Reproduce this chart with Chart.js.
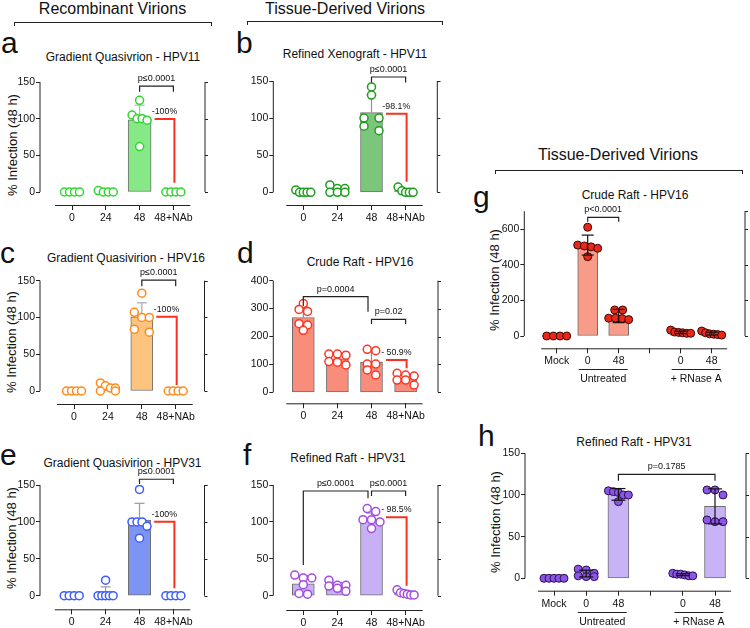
<!DOCTYPE html>
<html>
<head>
<meta charset="utf-8">
<title>Virion infection panels</title>
<script src="https://cdn.jsdelivr.net/npm/chart.js@4.4.1/dist/chart.umd.min.js"></script>
<style>
  body { margin: 0; background: #fff; }
  #figure { position: relative; width: 750px; height: 628px; overflow: hidden;
            font-family: "Liberation Sans", Arial, Helvetica, sans-serif; color: #111; }
  #figure canvas { position: absolute; left: 0; top: 0; }
  .txt { position: absolute; line-height: 1; white-space: nowrap; }
  .brace { position: absolute; border: 1.5px solid #222; border-bottom: none; height: 4px; box-sizing: border-box; }
</style>
</head>
<body>
<div id="figure"></div>
<script>
// ------------------- DATA -------------------
const timeLabels = ["0", "24", "48", "48+NAb"];
const raftLabels = ["Mock", "0", "48", "", "0", "48"];
const raftGroups = [[1, 2, "Untreated"], [4, 5, "+ RNase A"]];

const ticks150 = [0, 50, 100, 150];
const ticks400 = [0, 100, 200, 300, 400];
const ticks600 = [0, 200, 400, 600];

// sig rows: [from, to, bracket level, left leg end, right leg end, text]
// drop rows: [top value, bottom value, text]

// a - Gradient Quasivrion HPV11
const aMean = [0, 0.5, 98.4, 0];
const aSd = [0, 0, 20, 0];
const aPts = [[0, 0, 0, 0], [2, 0, 0, 0], [125, 105, 100, 100, 98, 62], [0, 0, 0, 0]];
const aSig = [[2, 3, 144.5, 136.8, 136.8, "p≤0.0001"]];
const aDrop = [99.6, 12.7, "-100%"];

// b - Refined Xenograft HPV11
const bMean = [0.6, 3.3, 107.5, 1.8];
const bSd = [0, 0, 24, 0];
const bPts = [[3, 0, 0, 0, 0], [10, 5, 5, 0, 0, 0], [142, 131, 100, 100, 89, 83], [7, 2, 0, 0, 0]];
const bSig = [[2, 3, 155.4, 148.1, 148.1, "p≤0.0001"]];
const bDrop = [105.8, 14.3, "-98.1%"];

// c - Gradient Quasivirion HPV16
const cMean = [0, 4.3, 100.7, 0];
const cSd = [0, 4.7, 19.2, 0];
const cPts = [[0, 0, 0, 0], [11, 7, 4, 4, 0, 0], [133, 107, 100, 100, 84, 80], [0, 0, 0, 0]];
const cSig = [[2, 3, 150.7, 142.5, 142.5, "p≤0.0001"]];
const cDrop = [100.9, 8.1, "-100%"];

// d - Crude Raft HPV16
const dMean = [268, 120, 108, 50];
const dSd = [41, 20, 41, 16];
const dPts = [[318, 297, 290, 246, 241, 222], [137, 137, 133, 110, 108, 98], [154, 149, 101, 101, 80, 62], [68, 62, 58, 44, 44, 26]];
const dSig = [[0, 2, 342.7, 309.3, 288.9, "p=0.0004"], [2, 3, 261.6, 244.8, 244.8, "p=0.02"]];
const dDrop = [115.8, 86, "- 50.9%"];

// e - Gradient Quasivirion HPV31
const eMean = [0, 3.5, 102.3, 0];
const eSd = [0, 8.5, 22.9, 0];
const ePts = [[0, 0, 0, 0], [21, 0, 0, 0, 0, 0], [144, 100, 100, 100, 94, 78], [0, 0, 0, 0]];
const eSig = [[2, 3, 157.8, 151.4, 151.4, "p≤0.0001"]];
const eDrop = [100.3, 10, "-100%"];

// f - Refined Raft HPV31
const fMean = [16, 13, 103, 3];
const fSd = [11, 5, 9, 3];
const fPts = [[28, 24, 24, 15, 3, 2], [21, 14, 14, 13, 10, 6], [118, 114, 103, 103, 100, 91], [8, 4, 3, 2, 1, 1]];
const fSig = [[0, 2, 141.9, 41.6, 132, "p≤0.0001"], [2, 3, 141.9, 135.1, 135.1, "p≤0.0001"]];
const fDrop = [106.3, 13.6, "- 98.5%"];

// g - Crude Raft HPV16 (RNase)
const gMean = [0, 510, 112, null, 20.5, 13.5];
const gSd = [0, 56, 37, null, 7, 8];
const gPts = [[0, 0, 0, 0], [610, 510, 505, 500, 492, 445], [146, 146, 100, 100, 98, 92], [], [33, 22, 20, 18, 15, 15], [28, 18, 12, 10, 8, 5]];
const gSig = [[1, 2, 665.7, 641, 641, "p<0.0001"]];

// h - Refined Raft HPV31 (RNase)
const hMean = [0, 5.7, 100.7, null, 4.3, 86.3];
const hSd = [0, 4, 7, null, 1.2, 21];
const hPts = [[0, 0, 0, 0, 0], [11, 10, 6, 3, 2, 2], [105, 104, 103, 100, 100, 92], [], [6, 5, 5, 4, 3, 3], [106, 106, 100, 70, 68, 68]];
const hSig = [[2, 5, 124.8, 117.1, 117.1, "p=0.1785"]];

// ------------------- LAYOUT -------------------
const hollow = { gap: 16, wmax: 15, tick: 10.5, cap: 10, filled: false };
const panels = [
  { ...hollow, labels: timeLabels, mean: aMean, sd: aSd, pts: aPts, sig: aSig, drop: aDrop, ticks: ticks150, max: 150,
    ax: 40, yTop: 82, yZero: 192, xAxis: 205, cat0: 72, step: 33.8, rb: 205, barW: 23,
    bar: "#86e886", dot: "#2fd62f", err: "#86d886" },
  { ...hollow, labels: timeLabels, mean: bMean, sd: bSd, pts: bPts, sig: bSig, drop: bDrop, ticks: ticks150, max: 150,
    ax: 273.3, yTop: 81, yZero: 192.3, xAxis: 205, cat0: 303.3, step: 34.1, rb: 437.3, barW: 22,
    bar: "#7cc67c", dot: "#1c9e1c", err: "#8a9a8a" },
  { ...hollow, labels: timeLabels, mean: cMean, sd: cSd, pts: cPts, sig: cSig, drop: cDrop, ticks: ticks150, max: 150,
    ax: 40, yTop: 280.7, yZero: 391, xAxis: 404, cat0: 74, step: 33.9, rb: 204.5, barW: 22,
    bar: "#fdc47f", dot: "#ff8a1c", err: "#a8a8a8" },
  { ...hollow, gap: 8.5, wmax: 17, labels: timeLabels, mean: dMean, sd: dSd, pts: dPts, sig: dSig, drop: dDrop, ticks: ticks400, max: 400,
    ax: 273.3, yTop: 280.7, yZero: 392.3, xAxis: 403.3, cat0: 303.3, step: 34.1, rb: 438, barW: 22,
    bar: "#f98d7c", dot: "#ff3522", err: "#8a8a8a" },
  { ...hollow, labels: timeLabels, mean: eMean, sd: eSd, pts: ePts, sig: eSig, drop: eDrop, ticks: ticks150, max: 150,
    ax: 40, yTop: 485, yZero: 595.7, xAxis: 609.3, cat0: 71.7, step: 33.9, rb: 204.5, barW: 22.3,
    bar: "#7c94f2", dot: "#3c5cff", err: "#9a9a9a" },
  { ...hollow, gap: 8.5, wmax: 17, labels: timeLabels, mean: fMean, sd: fSd, pts: fPts, sig: fSig, drop: fDrop, ticks: ticks150, max: 150,
    ax: 273.3, yTop: 485, yZero: 595.7, xAxis: 610, cat0: 303.3, step: 34.1, rb: 438, barW: 22,
    bar: "#c7b0f6", dot: "#a44be0", err: "#8a8a8a" },
  { gap: 8, wmax: 20, tick: 10.5, cap: 12, filled: true, labels: raftLabels, groups: raftGroups,
    mean: gMean, sd: gSd, pts: gPts, sig: gSig, ticks: ticks600, max: 700,
    ax: 524.3, yTop: 211.2, yZero: 336, xAxis: 348.3, cat0: 556.7, step: 31, rb: 745, barW: 20,
    bar: "#f99b89", dot: "#e8291a", edge: "#3a0804", err: "#111" },
  { gap: 8, wmax: 20, tick: 10.5, cap: 14, filled: true, labels: raftLabels, groups: raftGroups,
    mean: hMean, sd: hSd, pts: hPts, sig: hSig, ticks: ticks150, max: 150,
    ax: 525, yTop: 453.3, yZero: 578.3, xAxis: 590.7, cat0: 554, step: 32.2, rb: 746, barW: 21,
    bar: "#c9b3f7", dot: "#8b55e6", edge: "#2a1050", err: "#111" }
];

const texts = [
  ["Recombinant Virions", 112.5, 15, 16, true],
  ["Tissue-Derived Virions", 345, 15, 16, true],
  ["Tissue-Derived Virions", 618, 161, 16, true],
  ["a", 1, 53, 30], ["b", 236, 53, 30], ["c", 0, 263, 30], ["d", 237, 263, 30],
  ["e", 0, 465, 30], ["f", 243, 465, 30], ["g", 473, 207, 30], ["h", 478, 446, 30],
  ["Gradient Quasivrion - HPV11", 123, 61, 12, true],
  ["Refined Xenograft - HPV11", 355, 58, 12, true],
  ["Gradient Quasivirion - HPV16", 126, 262, 12, true],
  ["Crude Raft - HPV16", 360, 266, 12, true],
  ["Gradient Quasivirion - HPV31", 122.5, 467, 12, true],
  ["Refined Raft - HPV31", 348, 462, 12, true],
  ["Crude Raft - HPV16", 635, 199, 12, true],
  ["Refined Raft - HPV31", 634, 446, 12, true]
];
const yTitles = [[11.5, 145], [11, 342], [11, 538], [494, 280], [495, 522]];
const braces = [[14, 22, 198], [247, 21, 196], [495, 170, 248]];

// ------------------- HELPERS -------------------
const fig = document.getElementById("figure");
Chart.defaults.font.family = "'Liberation Sans', Arial, Helvetica, sans-serif";
Chart.defaults.color = "#111";

function addText(str, x, base, size, centered) {
  const el = document.createElement("div");
  el.className = "txt";
  el.textContent = str;
  el.style.fontSize = size + "px";
  el.style.left = x + "px";
  el.style.top = (base - 0.8465 * size) + "px";
  if (centered) el.style.transform = "translateX(-50%)";
  fig.appendChild(el);
}

function addYTitle(x, y) {
  const el = document.createElement("div");
  el.className = "txt";
  el.textContent = "% Infection (48 h)";
  el.style.fontSize = "13px";
  el.style.left = x + "px";
  el.style.top = y + "px";
  el.style.transform = "translate(-50%, -50%) rotate(-90deg)";
  fig.appendChild(el);
}

function addBrace(x, y, w) {
  const el = document.createElement("div");
  el.className = "brace";
  el.style.left = x + "px";
  el.style.top = y + "px";
  el.style.width = w + "px";
  fig.appendChild(el);
}

// spread points of one column in rows, like the prism scatter layout (pixel offsets)
function swarm(vals, ppu, gap, wmax) {
  const order = vals.map((v, i) => i).sort((a, b) => vals[b] - vals[a]);
  const offs = [];
  let row = [];
  const flush = () => {
    const k = row.length;
    const g = k > 1 ? Math.min(gap, wmax / (k - 1)) : 0;
    row.forEach((idx, j) => { offs[idx] = (j - (k - 1) / 2) * g; });
    row = [];
  };
  order.forEach(idx => {
    if (row.length && (vals[row[0]] - vals[idx]) * ppu > 5.5) flush();
    row.push(idx);
  });
  flush();
  return offs;
}

function seg(ctx, pts) {
  ctx.beginPath();
  pts.forEach(([x, y], i) => i ? ctx.lineTo(x, y) : ctx.moveTo(x, y));
  ctx.stroke();
}

function drawErrors(chart, p) {
  const { ctx } = chart;
  const x = chart.scales.x, y = chart.scales.y;
  ctx.save();
  ctx.strokeStyle = p.err;
  ctx.lineWidth = 1.2;
  p.mean.forEach((m, i) => {
    const s = p.sd[i];
    if (!s || m === null) return;
    const cx = x.getPixelForValue(i);
    const top = y.getPixelForValue(m + s);
    const bot = y.getPixelForValue(p.filled ? Math.max(m - s, 0) : m);
    seg(ctx, [[cx, bot], [cx, top]]);
    seg(ctx, [[cx - p.cap / 2, top], [cx + p.cap / 2, top]]);
    if (p.filled) seg(ctx, [[cx - p.cap / 2, bot], [cx + p.cap / 2, bot]]);
  });
  ctx.restore();
}

// ------------------- DECORATION PLUGIN -------------------
function decor(p) {
  return {
    id: "decor",
    afterDatasetDraw(chart, args) {
      if (args.index === 0 && !p.filled) drawErrors(chart, p);
    },
    afterDatasetsDraw(chart) {
      if (p.filled) drawErrors(chart, p);
    },
    afterDraw(chart) {
      const { ctx, chartArea } = chart;
      const x = chart.scales.x, y = chart.scales.y;
      const n = p.labels.length;
      const y0 = y.getPixelForValue(0), yMax = y.getPixelForValue(p.max);

      ctx.save();
      ctx.strokeStyle = "#222";
      ctx.lineWidth = 1;
      // left axis, offset bottom axis
      seg(ctx, [[chartArea.left, y0], [chartArea.left, yMax]]);
      seg(ctx, [[x.getPixelForValue(-0.5), chartArea.bottom + 0.5], [x.getPixelForValue(n - 0.5), chartArea.bottom + 0.5]]);

      // cropped right axis
      seg(ctx, [[p.rb, y0], [p.rb, yMax]]);
      [...p.ticks, p.max].forEach(v => {
        const ty = Math.round(y.getPixelForValue(v)) + 0.5;
        seg(ctx, [[p.rb, ty], [p.rb + 3, ty]]);
      });

      // significance brackets
      ctx.lineWidth = 1.2;
      ctx.fillStyle = "#111";
      ctx.font = "9px 'Liberation Sans', Arial, sans-serif";
      ctx.textAlign = "center";
      ctx.textBaseline = "middle";
      p.sig.forEach(([from, to, level, legL, legR, label]) => {
        const inset = p.sig.some(s => s[0] === to) ? 3.5 : 0;
        const x1 = x.getPixelForValue(from);
        const x2 = x.getPixelForValue(to) - inset;
        const yl = y.getPixelForValue(level);
        seg(ctx, [[x1, y.getPixelForValue(legL)], [x1, yl], [x2, yl], [x2, y.getPixelForValue(legR)]]);
        ctx.fillText(label, (x1 + x2) / 2, yl - 7.5);
      });

      // red reduction line
      if (p.drop) {
        const [topV, botV, label] = p.drop;
        const x1 = x.getPixelForValue(2) + p.barW / 2 + 3.5;
        const x2 = x.getPixelForValue(3) + 1;
        const yt = y.getPixelForValue(topV);
        ctx.strokeStyle = "#f8321e";
        ctx.lineWidth = 2;
        seg(ctx, [[x1, yt], [x2, yt], [x2, y.getPixelForValue(botV)]]);
        ctx.font = "8.8px 'Liberation Sans', Arial, sans-serif";
        ctx.fillText(label, (x1 + x2) / 2, yt - 7.5);
      }

      // grouped category captions
      if (p.groups) {
        ctx.strokeStyle = "#222";
        ctx.lineWidth = 1;
        ctx.font = p.tick + "px 'Liberation Sans', Arial, sans-serif";
        p.groups.forEach(([i1, i2, label]) => {
          const mid = (x.getPixelForValue(i1) + x.getPixelForValue(i2)) / 2;
          const ly = Math.round(chartArea.bottom + 21) + 0.5;
          seg(ctx, [[mid - 24.5, ly], [mid + 24.5, ly]]);
          ctx.fillText(label, mid, chartArea.bottom + 31);
        });
      }
      ctx.restore();
    }
  };
}

// ------------------- BUILD ONE PANEL -------------------
function buildPanel(p) {
  const canvas = document.createElement("canvas");
  canvas.width = 750;
  canvas.height = 628;
  fig.appendChild(canvas);

  const ppu = (p.yZero - p.yTop) / p.max;
  const n = p.labels.length;
  const xMin = (p.ax - p.cat0) / p.step;
  const xMax = n - 0.4;
  const right = p.cat0 + xMax * p.step;
  const yMin = -(p.xAxis - p.yZero) / ppu;

  const scatter = [];
  p.pts.forEach((vals, i) => {
    const offs = swarm(vals, ppu, p.gap, p.wmax);
    vals.forEach((v, j) => scatter.push({ x: i + offs[j] / p.step, y: v }));
  });
  const bars = p.mean.map((m, i) => ({ x: i, y: m })).filter(d => d.y !== null);

  new Chart(canvas, {
    type: "bar",
    data: {
      datasets: [
        {
          type: "bar", data: bars, order: 2,
          backgroundColor: p.bar, borderColor: "#6e6e6e", borderWidth: 1,
          borderSkipped: false, barThickness: p.barW
        },
        {
          type: "scatter", data: scatter, order: 1,
          pointRadius: 4, pointBorderWidth: p.filled ? 1 : 1.5,
          pointBackgroundColor: p.filled ? p.dot : "#fff",
          pointBorderColor: p.filled ? p.edge : p.dot
        }
      ]
    },
    options: {
      responsive: false,
      animation: false,
      events: [],
      layout: { padding: { left: p.ax - 30, right: 750 - right, top: p.yTop, bottom: 628 - p.xAxis - 20 } },
      plugins: { legend: { display: false }, tooltip: { enabled: false } },
      scales: {
        x: {
          type: "linear", min: xMin, max: xMax, offset: false,
          afterFit: s => { s.height = 20; },
          afterBuildTicks: s => { s.ticks = p.labels.map((_, i) => ({ value: i })); },
          ticks: { callback: v => p.labels[v] ?? "", autoSkip: false, maxRotation: 0, minRotation: 0,
                   padding: 2, font: { size: p.tick }, color: "#111" },
          grid: { offset: false, drawOnChartArea: false, tickLength: 5, color: "#222" },
          border: { display: false }
        },
        y: {
          type: "linear", min: yMin, max: p.max,
          afterFit: s => { s.width = 30; },
          afterBuildTicks: s => { s.ticks = p.ticks.map(v => ({ value: v })); },
          ticks: { padding: 1, font: { size: p.tick }, color: "#111" },
          grid: { drawOnChartArea: false, tickLength: 4, color: "#222" },
          border: { display: false }
        }
      }
    },
    plugins: [decor(p)]
  });
}

// ------------------- INIT -------------------
texts.forEach(t => addText(...t));
yTitles.forEach(([x, y]) => addYTitle(x, y));
braces.forEach(([x, y, w]) => addBrace(x, y, w));
panels.forEach(buildPanel);
</script>
</body>
</html>
